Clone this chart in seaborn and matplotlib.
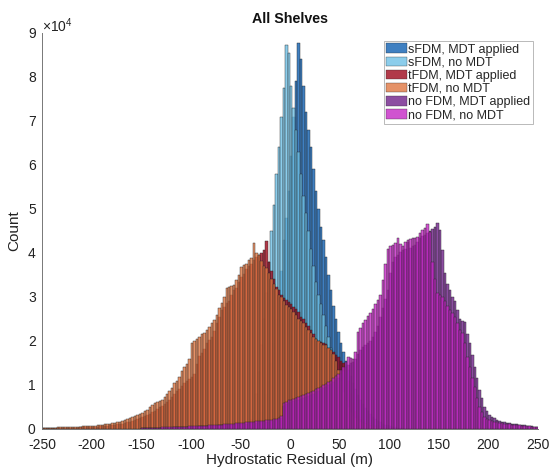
import numpy as np
import pandas as pd
import seaborn as sns
import matplotlib
matplotlib.use("Agg")
import matplotlib.pyplot as plt
from matplotlib.patches import Patch

# ---------------- data (counts in thousands, 2.5 m bins, left edge = start) ----------------
BIN_WIDTH = 2.5

series_names = ["sFDM, MDT applied", "sFDM, no MDT", "tFDM, MDT applied",
                "tFDM, no MDT", "no FDM, MDT applied", "no FDM, no MDT"]

sfdm_mdt_start = -45.0
sfdm_mdt = [0.3, 0.5, 0.8, 1.2, 1.8, 2.6, 3.8, 5.5, 8, 11,
            15, 19.5, 25, 30, 36, 43, 48, 54, 62, 71,
            79, 87.7, 84, 78, 72, 68, 64, 59, 54, 50,
            46, 43, 39, 35, 31.5, 28, 25, 22, 19.5, 17.5,
            15.5, 13.5, 12, 10.5, 9, 7.8, 6.6, 5.6, 4.7, 4.0,
            3.3, 2.7, 2.2, 1.8, 1.5, 1.2, 1.0, 0.8, 0.6, 0.5,
            0.4, 0.3, 0.2, 0.2]

sfdm_nomdt_start = -45.0
sfdm_nomdt = [0.5, 1, 2, 4, 8, 13, 19, 25, 31, 38,
              45, 51, 58, 64, 71, 77.5, 87.3, 85.5, 78, 73,
              68, 63, 58, 53, 49, 45, 41, 37, 33.5, 30.5,
              28.5, 26, 23.5, 21, 18.5, 16, 14, 12, 10.2, 8.7,
              7.4, 6.2, 5.2, 4.3, 3.6, 3.0, 2.5, 2.0, 1.7, 1.4,
              1.1, 0.9, 0.7, 0.6, 0.5, 0.4, 0.3, 0.3, 0.2, 0.2,
              0.1, 0.1, 0.1, 0.1]

tfdm_mdt_start = -250.0
tfdm_mdt = [0.20, 0.18, 0.22, 0.20, 0.24, 0.22, 0.25, 0.23, 0.26, 0.25,
            0.27, 0.26, 0.30, 0.31, 0.33, 0.35, 0.36, 0.40, 0.42, 0.45,
            0.48, 0.52, 0.55, 0.60, 0.65, 0.70, 0.76, 0.82, 0.90, 0.98,
            1.05, 1.15, 1.25, 1.40, 1.55, 1.70, 1.85, 2.05, 2.25, 2.45,
            2.65, 2.90, 3.20, 3.50, 3.80, 4.20, 4.55, 4.90, 5.30, 5.70,
            6.10, 6.60, 7.20, 8.00, 8.60, 9.20, 9.80, 10.4, 10.9, 11.4,
            11.8, 12.6, 14.8, 16.5, 17.3, 18.2, 19.5, 20.3, 21.0, 22.3,
            24.0, 25.5, 27.0, 27.8, 28.6, 29.2, 30.5, 31.5, 32.0, 33.3,
            34.5, 35.2, 36.3, 37.0, 37.6, 38.3, 39.0, 39.5, 40.0, 40.6,
            42.7, 38.0, 36.0, 34.0, 32.3, 31.6, 30.5, 29.8, 29.3, 28.8,
            28.5, 27.8, 27.2, 26.5, 25.5, 25.0, 24.2, 23.5, 22.5, 21.5,
            20.5, 19.9, 19.8, 19.5, 19.3, 18.4, 18.0, 17.5, 16.8, 16.4,
            15.5, 15.0, 13.5, 11.0, 8.0, 6.0, 4.2, 3.0, 2.2, 1.7,
            1.3, 1.1, 0.9, 0.75, 0.6, 0.5, 0.4, 0.32, 0.25, 0.2]

tfdm_nomdt_start = -250.0
tfdm_nomdt = [0.30, 0.28, 0.32, 0.30, 0.34, 0.33, 0.36, 0.35, 0.38, 0.40,
              0.42, 0.44, 0.46, 0.50, 0.52, 0.55, 0.58, 0.62, 0.65, 0.70,
              0.74, 0.78, 0.84, 0.90, 0.96, 1.05, 1.10, 1.20, 1.30, 1.42,
              1.55, 1.70, 1.85, 2.00, 2.20, 2.45, 2.70, 2.95, 3.20, 3.45,
              3.70, 4.00, 4.40, 4.90, 5.40, 5.80, 6.20, 6.40, 6.70, 7.20,
              8.00, 8.60, 9.40, 10.4, 11.0, 11.8, 13.2, 14.1, 14.8, 15.8,
              19.5, 20.0, 20.4, 21.0, 21.5, 21.8, 22.5, 23.2, 24.0, 24.8,
              26.0, 27.5, 28.6, 30.0, 32.0, 32.2, 32.5, 32.7, 33.8, 35.0,
              36.8, 37.2, 37.6, 38.4, 38.8, 42.3, 40.0, 39.5, 38.2, 37.0,
              36.5, 35.5, 34.0, 33.0, 31.8, 30.5, 30.0, 29.0, 28.2, 27.8,
              27.2, 26.5, 25.8, 25.0, 24.5, 24.0, 23.2, 22.5, 21.8, 21.0,
              20.5, 20.0, 19.6, 19.2, 19.0, 18.4, 18.0, 17.0, 15.5, 13.5,
              11.0, 8.5, 6.5, 5.0, 3.8, 3.0, 2.4, 2.0, 1.6, 1.3,
              1.05, 0.9, 0.75, 0.62, 0.5, 0.42, 0.35, 0.28, 0.22, 0.18]

nofdm_mdt_start = -150.0
nofdm_mdt = [0.20, 0.22, 0.22, 0.24, 0.25, 0.26, 0.27, 0.28, 0.29, 0.30,
             0.31, 0.32, 0.34, 0.35, 0.37, 0.39, 0.41, 0.43, 0.45, 0.47,
             0.50, 0.52, 0.55, 0.57, 0.60, 0.62, 0.65, 0.68, 0.70, 0.73,
             0.76, 0.80, 0.83, 0.86, 0.90, 0.93, 0.97, 1.00, 1.05, 1.10,
             1.15, 1.20, 1.25, 1.30, 1.35, 1.40, 1.45, 1.50, 1.55, 1.60,
             1.65, 1.70, 1.75, 1.85, 2.0, 2.3, 2.6, 5.2, 5.6, 5.9,
             6.1, 6.3, 6.5, 6.7, 6.9, 7.1, 7.3, 7.5, 7.8, 8.0,
             8.3, 8.6, 9.0, 9.3, 9.6, 9.9, 10.3, 10.7, 11.2, 11.7,
             12.4, 13.2, 14.0, 14.6, 15.0, 15.3, 16.0, 17.0, 18.0, 18.6,
             19.0, 19.5, 20.0, 20.8, 22.0, 23.5, 25.5, 27.5, 29.5, 31.6,
             35.5, 38.0, 39.0, 39.6, 40.2, 40.6, 41.0, 42.5, 41.2, 41.5,
             41.8, 42.5, 43.3, 43.8, 44.2, 44.5, 45.0, 45.5, 45.8, 46.8,
             45.2, 40.7, 35.5, 33.0, 31.5, 30.0, 29.0, 27.0, 25.0, 24.6,
             24.3, 21.5, 19.5, 16.8, 14.1, 11.5, 8.9, 7.0, 5.0, 4.0,
             3.2, 2.7, 2.4, 2.1, 1.9, 1.7, 1.55, 1.45, 1.35, 1.25,
             1.15, 1.05, 0.95, 0.9, 0.8, 0.75, 0.7, 0.6, 0.55, 0.5]

nofdm_nomdt_start = -150.0
nofdm_nomdt = [0.25, 0.26, 0.27, 0.28, 0.30, 0.31, 0.32, 0.33, 0.35, 0.36,
               0.38, 0.40, 0.41, 0.43, 0.45, 0.47, 0.49, 0.52, 0.54, 0.57,
               0.60, 0.63, 0.66, 0.69, 0.72, 0.75, 0.78, 0.82, 0.85, 0.89,
               0.93, 0.97, 1.01, 1.05, 1.10, 1.14, 1.19, 1.24, 1.29, 1.34,
               1.40, 1.45, 1.50, 1.56, 1.62, 1.68, 1.74, 1.80, 1.86, 1.92,
               1.98, 2.05, 2.12, 2.20, 2.35, 2.6, 3.0, 5.8, 6.2, 6.5,
               6.7, 6.9, 7.1, 7.3, 7.5, 7.7, 7.9, 8.1, 8.4, 8.7,
               9.0, 9.3, 9.6, 9.9, 10.2, 10.6, 11.0, 11.5, 12.0, 12.6,
               13.3, 14.2, 15.2, 16.4, 16.2, 16.0, 17.5, 22.0, 23.0, 24.0,
               24.8, 25.6, 26.3, 27.3, 28.3, 29.3, 30.5, 33.9, 37.5, 41.0,
               41.5, 41.8, 42.2, 43.3, 42.0, 41.5, 42.5, 43.0, 43.2, 43.5,
               43.5, 43.7, 44.5, 45.2, 45.6, 46.6, 44.8, 38.0, 34.0, 31.0,
               30.5, 30.0, 29.0, 28.0, 27.0, 26.3, 25.5, 24.0, 22.5, 21.8,
               19.5, 16.4, 14.0, 11.5, 9.5, 7.0, 5.0, 3.8, 2.8, 2.3,
               2.0, 1.8, 1.6, 1.5, 1.4, 1.3, 1.25, 1.2, 1.1, 1.0,
               0.9, 0.85, 0.8, 0.75, 0.7, 0.65, 0.6, 0.55, 0.5, 0.5]

series_starts = [sfdm_mdt_start, sfdm_nomdt_start, tfdm_mdt_start,
                 tfdm_nomdt_start, nofdm_mdt_start, nofdm_nomdt_start]
series_values = [sfdm_mdt, sfdm_nomdt, tfdm_mdt, tfdm_nomdt, nofdm_mdt, nofdm_nomdt]

x_ticks = [-250, -200, -150, -100, -50, 0, 50, 100, 150, 200, 250]
y_ticks = [0, 1, 2, 3, 4, 5, 6, 7, 8, 9]   # x 10^4

# ---------------- styling ----------------
ALPHA = 0.78
colors = ["#0a5cb0", "#6cc0e6", "#9b0216", "#de733e", "#6c1c87", "#c323c3"]
edge = "#262626"

sns.set_theme(style="white")
plt.rcParams["font.family"] = ["Liberation Sans", "DejaVu Sans"]
plt.rcParams["mathtext.fontset"] = "custom"
plt.rcParams["mathtext.rm"] = "Liberation Sans"
plt.rcParams["mathtext.it"] = "Liberation Sans"

frames = []
for name, start, vals in zip(series_names, series_starts, series_values):
    vals = np.asarray(vals, dtype=float)
    centers = start + BIN_WIDTH * (np.arange(len(vals)) + 0.5)
    frames.append(pd.DataFrame({"residual": centers, "count": vals * 1000.0,
                                "series": name}))
df = pd.concat(frames, ignore_index=True)

fig = plt.figure(figsize=(5.51, 4.70), dpi=100)
ax = fig.add_axes([42 / 551, 1 - 429 / 470, (538 - 42) / 551, (429 - 33) / 470])

for name, start, vals, col in zip(series_names, series_starts, series_values, colors):
    sub = df[df["series"] == name]
    stop = start + BIN_WIDTH * len(vals)
    sns.histplot(data=sub, x="residual", weights="count",
                 binwidth=BIN_WIDTH, binrange=(start, stop - 1e-6),
                 color=col, alpha=ALPHA, edgecolor=edge, linewidth=0.3,
                 ax=ax, legend=False)

ax.set_xlim(-250, 250)
ax.set_ylim(0, 90000)
ax.set_xticks(x_ticks)
ax.set_xticklabels([str(t) for t in x_ticks])
ax.set_yticks([t * 1e4 for t in y_ticks])
ax.set_yticklabels([str(t) for t in y_ticks])
ax.tick_params(axis="both", direction="in", length=4, width=0.6, color="#444444",
               labelsize=10, labelcolor="#222222")
ax.tick_params(axis="x", pad=6.5)
ax.tick_params(axis="y", pad=4.5)

for s in ["top", "right"]:
    ax.spines[s].set_visible(False)
for s in ["left", "bottom"]:
    ax.spines[s].set_color("#777777")
    ax.spines[s].set_linewidth(0.7)

ax.set_xlabel("Hydrostatic Residual (m)", fontsize=11, color="#222222", labelpad=1)
ax.set_ylabel("Count", fontsize=11, color="#222222", labelpad=5)
ax.set_title("All Shelves", fontsize=10.3, fontweight="bold", color="#111111", pad=7)
ax.text(0.0, 0.994, r"$\times10^{4}$", transform=ax.transAxes, fontsize=10,
        ha="left", va="bottom", color="#222222")

handles = [Patch(facecolor=c, edgecolor=edge, alpha=ALPHA, linewidth=0.3) for c in colors]
leg = ax.legend(handles, series_names, loc="upper right",
                bbox_to_anchor=(533 / 551, 1 - 41 / 470), bbox_transform=fig.transFigure,
                fontsize=9, frameon=True, fancybox=False, borderpad=0.2,
                labelspacing=0.07, handlelength=1.65, handleheight=0.82,
                handletextpad=0.12, borderaxespad=0.0)
leg.get_frame().set_edgecolor("#9a9a9a")
leg.get_frame().set_linewidth(0.6)

fig.savefig("out.png", dpi=100)
